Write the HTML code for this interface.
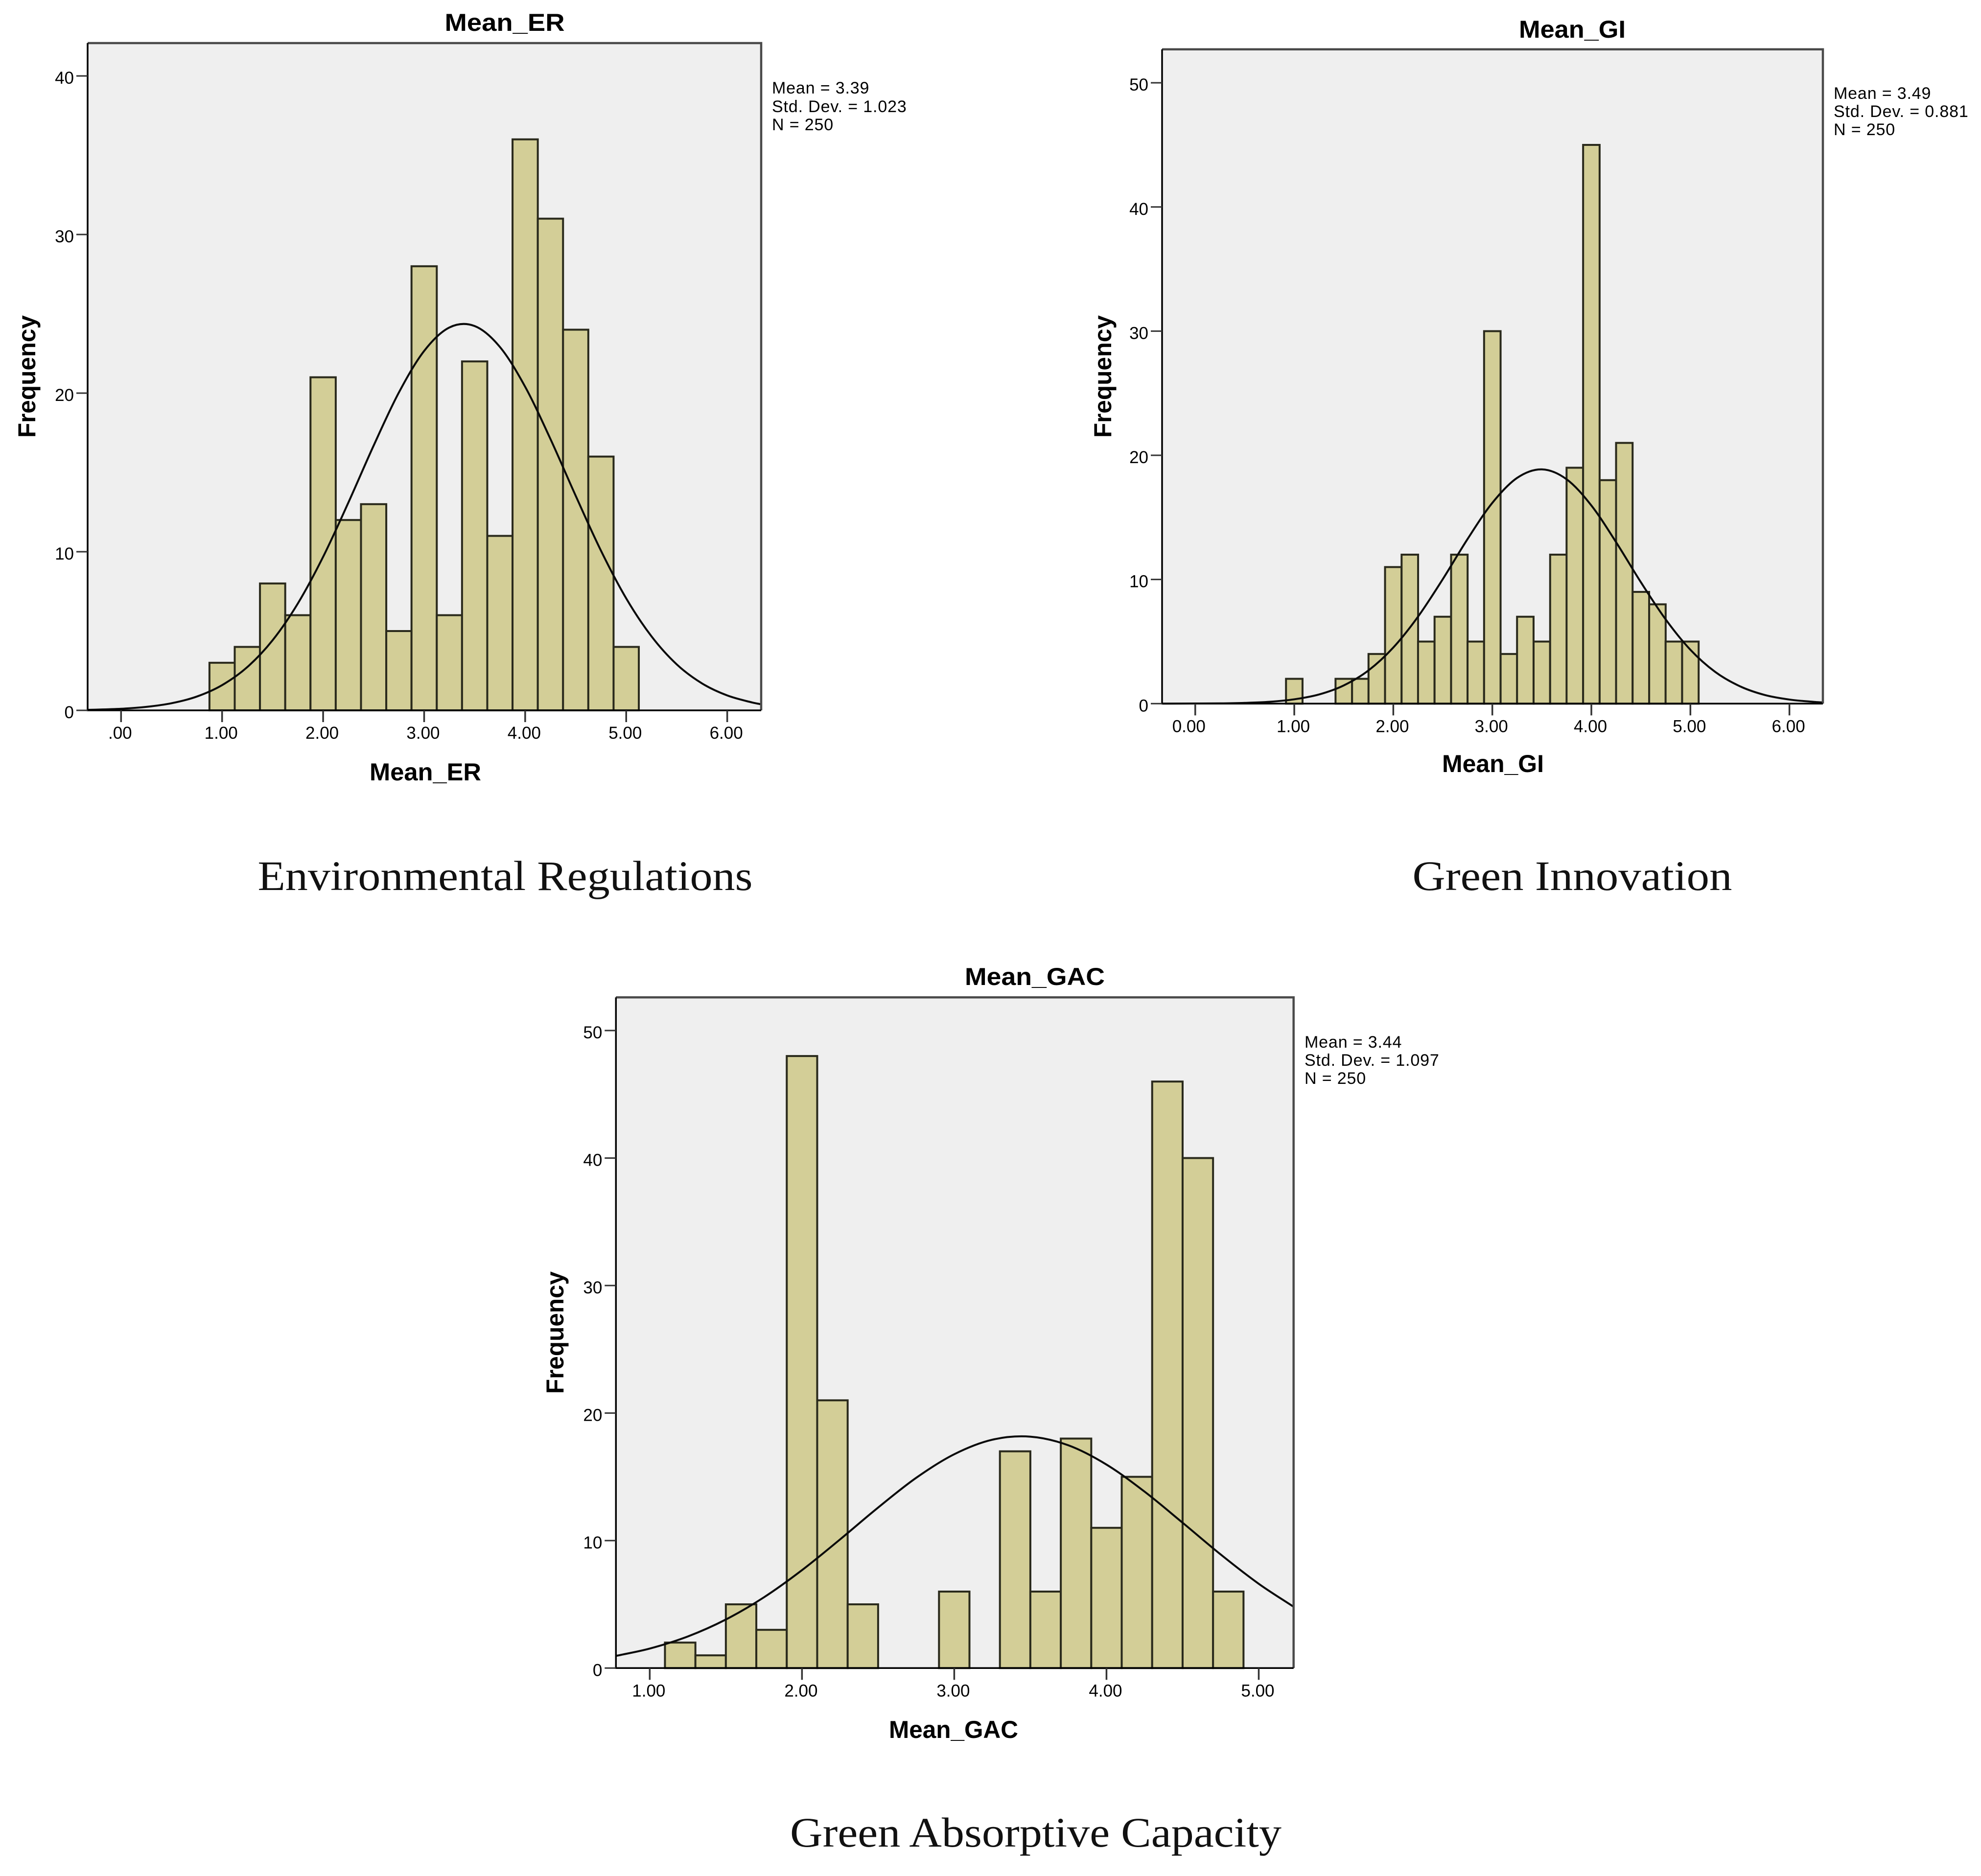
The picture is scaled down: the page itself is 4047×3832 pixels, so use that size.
<!DOCTYPE html>
<html lang="en">
<head>
<meta charset="utf-8">
<title>Histograms of Mean_ER, Mean_GI and Mean_GAC</title>
<style>
html,body{margin:0;padding:0;background:#fff;width:4047px;height:3832px;overflow:hidden}
svg{display:block;position:absolute;left:0;top:0}
text{font-family:"Liberation Sans",Arial,sans-serif;fill:#000}
.axis-title{font-size:50px;font-weight:700}
.stat{font-size:34px;letter-spacing:0.85px}
.tick-label{font-size:35px}
.caption{font-family:"Liberation Serif","Times New Roman",serif;font-size:86px;fill:#111}
</style>
</head>
<body>
<svg id="figure" xmlns="http://www.w3.org/2000/svg" width="4047" height="3832" viewBox="0 0 4047 3832">
  <rect x="0" y="0" width="4047" height="3832" fill="#ffffff"/>

  <g id="chart-er">
    <text class="axis-title" x="1031" y="63" text-anchor="middle" textLength="245" lengthAdjust="spacingAndGlyphs">Mean_ER</text>
    <text class="axis-title" x="869" y="1594" text-anchor="middle" textLength="228" lengthAdjust="spacingAndGlyphs">Mean_ER</text>
    <text class="axis-title" transform="translate(72 769) rotate(-90)" text-anchor="middle" textLength="250" lengthAdjust="spacingAndGlyphs">Frequency</text>
    <text class="stat" x="1577" y="191">Mean = 3.39</text>
    <text class="stat" x="1577" y="229">Std. Dev. = 1.023</text>
    <text class="stat" x="1577" y="266">N = 250</text>
    <text class="caption" x="1032" y="1818" text-anchor="middle" textLength="1011" lengthAdjust="spacingAndGlyphs">Environmental Regulations</text>
  </g>

  <g id="chart-gi">
    <text class="axis-title" x="3212" y="77" text-anchor="middle" textLength="218" lengthAdjust="spacingAndGlyphs">Mean_GI</text>
    <text class="axis-title" x="3050" y="1577" text-anchor="middle" textLength="208" lengthAdjust="spacingAndGlyphs">Mean_GI</text>
    <text class="axis-title" transform="translate(2270 769) rotate(-90)" text-anchor="middle" textLength="250" lengthAdjust="spacingAndGlyphs">Frequency</text>
    <text class="stat" x="3746" y="202">Mean = 3.49</text>
    <text class="stat" x="3746" y="239">Std. Dev. = 0.881</text>
    <text class="stat" x="3746" y="276">N = 250</text>
    <text class="caption" x="3212" y="1818" text-anchor="middle" textLength="653" lengthAdjust="spacingAndGlyphs">Green Innovation</text>
  </g>

  <g id="chart-gac">
    <text class="axis-title" x="2114" y="2012" text-anchor="middle" textLength="286" lengthAdjust="spacingAndGlyphs">Mean_GAC</text>
    <text class="axis-title" x="1948" y="3550" text-anchor="middle" textLength="264" lengthAdjust="spacingAndGlyphs">Mean_GAC</text>
    <text class="axis-title" transform="translate(1151 2722) rotate(-90)" text-anchor="middle" textLength="250" lengthAdjust="spacingAndGlyphs">Frequency</text>
    <text class="stat" x="2665" y="2140">Mean = 3.44</text>
    <text class="stat" x="2665" y="2177">Std. Dev. = 1.097</text>
    <text class="stat" x="2665" y="2214">N = 250</text>
    <text class="caption" x="2116" y="3772" text-anchor="middle" textLength="1004" lengthAdjust="spacingAndGlyphs">Green Absorptive Capacity</text>
  </g>
</svg>

<script>
// ---------- Mean_ER data ----------
const erBinCenters = [1, 1.25, 1.5, 1.75, 2, 2.25, 2.5, 2.75, 3, 3.25, 3.5, 3.75, 4, 4.25, 4.5, 4.75, 5];
const erCounts = [3, 4, 8, 6, 21, 12, 13, 5, 28, 6, 22, 11, 36, 31, 24, 16, 4];
const erBinWidth = 0.25;
const erXTicks = [0, 1, 2, 3, 4, 5, 6];
const erXLabels = ['.00', '1.00', '2.00', '3.00', '4.00', '5.00', '6.00'];
const erYTicks = [0, 10, 20, 30, 40];
const erCurveX = [-0.33, 0, 0.25, 0.5, 0.75, 1, 1.25, 1.5, 1.75, 2, 2.25, 2.5, 2.75, 3, 3.25, 3.5, 3.75, 4, 4.25, 4.5, 4.75, 5, 5.25, 5.5, 5.75, 6, 6.25, 6.33];
const erCurveY = [0.03, 0.1, 0.22, 0.45, 0.87, 1.59, 2.73, 4.42, 6.74, 9.68, 13.1, 16.69, 20.04, 22.66, 24.14, 24.23, 22.91, 20.4, 17.11, 13.53, 10.07, 7.06, 4.67, 2.9, 1.7, 0.94, 0.49, 0.39];

// ---------- Mean_GI data ----------
const giBinCenters = [1, 1.5, 1.667, 1.833, 2, 2.167, 2.333, 2.5, 2.667, 2.833, 3, 3.167, 3.333, 3.5, 3.667, 3.833, 4, 4.167, 4.333, 4.5, 4.667, 4.833, 5];
const giCounts = [2, 2, 2, 4, 11, 12, 5, 7, 12, 5, 30, 4, 7, 5, 12, 19, 45, 18, 21, 9, 8, 5, 5];
const giBinWidth = 0.1667;
const giXTicks = [0, 1, 2, 3, 4, 5, 6];
const giXLabels = ['0.00', '1.00', '2.00', '3.00', '4.00', '5.00', '6.00'];
const giYTicks = [0, 10, 20, 30, 40, 50];
const giCurveX = [-0.33, 0, 0.25, 0.5, 0.75, 1, 1.25, 1.5, 1.75, 2, 2.25, 2.5, 2.75, 3, 3.25, 3.5, 3.75, 4, 4.25, 4.5, 4.75, 5, 5.25, 5.5, 5.75, 6, 6.25, 6.33];
const giCurveY = [0, 0.01, 0.02, 0.06, 0.15, 0.35, 0.74, 1.47, 2.68, 4.52, 7.01, 10.03, 13.26, 16.17, 18.18, 18.87, 18.07, 15.96, 13, 9.78, 6.79, 4.34, 2.56, 1.4, 0.7, 0.33, 0.14, 0.1];

// ---------- Mean_GAC data ----------
const gacBinCenters = [1.2, 1.4, 1.6, 1.8, 2, 2.2, 2.4, 3, 3.4, 3.6, 3.8, 4, 4.2, 4.4, 4.6, 4.8];
const gacCounts = [2, 1, 5, 3, 48, 21, 5, 6, 17, 6, 18, 11, 15, 46, 40, 6];
const gacBinWidth = 0.2;
const gacXTicks = [1, 2, 3, 4, 5];
const gacXLabels = ['1.00', '2.00', '3.00', '4.00', '5.00'];
const gacYTicks = [0, 10, 20, 30, 40, 50];
const gacCurveX = [0.78, 1, 1.25, 1.5, 1.75, 2, 2.25, 2.5, 2.75, 3, 3.25, 3.5, 3.75, 4, 4.25, 4.5, 4.75, 5, 5.23];
const gacCurveY = [0.96, 1.53, 2.48, 3.81, 5.55, 7.68, 10.09, 12.59, 14.92, 16.77, 17.91, 18.15, 17.47, 15.96, 13.84, 11.4, 8.91, 6.61, 4.8];

const SVG_NS = 'http://www.w3.org/2000/svg';

function drawHistogram(root, frame, domain, centers, counts, binWidth, xTicks, xLabels, yTicks, curveX, curveY) {
  const xScale = v => frame.left + (v - domain.xMin) / (domain.xMax - domain.xMin) * (frame.right - frame.left);
  const yScale = v => frame.bottom - v / domain.yMax * (frame.bottom - frame.top);

  const panel = document.createElementNS(SVG_NS, 'rect');
  
  
  panel.setAttribute('x', frame.left);
  panel.setAttribute('y', frame.top);
  panel.setAttribute('width', frame.right - frame.left);
  panel.setAttribute('height', frame.bottom - frame.top);
  panel.setAttribute('fill', '#efefef');
  root.appendChild(panel);

  centers.forEach((c, i) => {
    const x0 = xScale(c - binWidth / 2);
    const x1 = xScale(c + binWidth / 2);
    const y = yScale(counts[i]);
    const bar = document.createElementNS(SVG_NS, 'rect');
    
    
    bar.setAttribute('x', x0);
    bar.setAttribute('y', y);
    bar.setAttribute('width', x1 - x0);
    bar.setAttribute('height', frame.bottom - y);
    bar.setAttribute('fill', '#d3ce97');
    bar.setAttribute('stroke', '#2a2a1c');
    bar.setAttribute('stroke-width', '4');
    root.appendChild(bar);
  });

  const px = curveX.map(xScale);
  const py = curveY.map(yScale);
  const slope = i => {
    const a = Math.max(i - 1, 0);
    const b = Math.min(i + 1, px.length - 1);
    return (py[b] - py[a]) / (px[b] - px[a]);
  };
  let d = 'M' + px[0].toFixed(2) + ' ' + py[0].toFixed(2);
  for (let i = 0; i < px.length - 1; i++) {
    const h = (px[i + 1] - px[i]) / 3;
    d += ' C' + (px[i] + h).toFixed(2) + ' ' + (py[i] + slope(i) * h).toFixed(2) +
         ' ' + (px[i + 1] - h).toFixed(2) + ' ' + (py[i + 1] - slope(i + 1) * h).toFixed(2) +
         ' ' + px[i + 1].toFixed(2) + ' ' + py[i + 1].toFixed(2);
  }
  const curve = document.createElementNS(SVG_NS, 'path');
  
  
  curve.setAttribute('d', d);
  curve.setAttribute('fill', 'none');
  curve.setAttribute('stroke', '#0a0a0a');
  curve.setAttribute('stroke-width', '4');
  root.appendChild(curve);

  const topEdge = document.createElementNS(SVG_NS, 'path');
  
  
  topEdge.setAttribute('d', 'M' + frame.left + ' ' + frame.top + ' H' + frame.right + ' V' + frame.bottom);
  topEdge.setAttribute('fill', 'none');
  topEdge.setAttribute('stroke', '#4a4a4a');
  topEdge.setAttribute('stroke-width', '4.5');
  root.appendChild(topEdge);

  const axisEdge = document.createElementNS(SVG_NS, 'path');
  
  
  axisEdge.setAttribute('d', 'M' + frame.left + ' ' + frame.top + ' V' + frame.bottom + ' H' + frame.right);
  axisEdge.setAttribute('fill', 'none');
  axisEdge.setAttribute('stroke', '#000000');
  axisEdge.setAttribute('stroke-width', '3.5');
  root.appendChild(axisEdge);

  xTicks.forEach((t, i) => {
    const tick = document.createElementNS(SVG_NS, 'line');
    
    
    tick.setAttribute('x1', xScale(t));
    tick.setAttribute('x2', xScale(t));
    tick.setAttribute('y1', frame.bottom);
    tick.setAttribute('y2', frame.bottom + 24);
    tick.setAttribute('stroke', '#333333');
    tick.setAttribute('stroke-width', '3.5');
    root.appendChild(tick);

    const label = document.createElementNS(SVG_NS, 'text');
    
    
    label.setAttribute('class', 'tick-label');
    label.setAttribute('x', xScale(t) - (i === 0 ? frame.firstLabelShift : 2));
    label.setAttribute('y', frame.bottom + 58);
    label.setAttribute('text-anchor', 'middle');
    label.textContent = xLabels[i];
    root.appendChild(label);
  });

  yTicks.forEach(t => {
    const tick = document.createElementNS(SVG_NS, 'line');
    
    
    tick.setAttribute('x1', frame.left - 23);
    tick.setAttribute('x2', frame.left);
    tick.setAttribute('y1', yScale(t));
    tick.setAttribute('y2', yScale(t));
    tick.setAttribute('stroke', '#333333');
    tick.setAttribute('stroke-width', '3');
    root.appendChild(tick);

    const label = document.createElementNS(SVG_NS, 'text');
    
    
    label.setAttribute('class', 'tick-label');
    label.setAttribute('x', frame.left - 28);
    label.setAttribute('y', yScale(t) + 16);
    label.setAttribute('text-anchor', 'end');
    label.textContent = String(t);
    root.appendChild(label);
  });
}

drawHistogram(document.getElementById('chart-er'),
  {left: 179, right: 1555, top: 88, bottom: 1451, firstLabelShift: 2},
  {xMin: -0.331, xMax: 6.336, yMax: 42.07},
  erBinCenters, erCounts, erBinWidth, erXTicks, erXLabels, erYTicks, erCurveX, erCurveY);

drawHistogram(document.getElementById('chart-gi'),
  {left: 2374, right: 3724, top: 100.7, bottom: 1437.3, firstLabelShift: 13},
  {xMin: -0.335, xMax: 6.338, yMax: 52.7},
  giBinCenters, giCounts, giBinWidth, giXTicks, giXLabels, giYTicks, giCurveX, giCurveY);

drawHistogram(document.getElementById('chart-gac'),
  {left: 1258.3, right: 2642.7, top: 2037.3, bottom: 3407.3, firstLabelShift: 2},
  {xMin: 0.778, xMax: 5.229, yMax: 52.6},
  gacBinCenters, gacCounts, gacBinWidth, gacXTicks, gacXLabels, gacYTicks, gacCurveX, gacCurveY);
</script>
</body>
</html>
